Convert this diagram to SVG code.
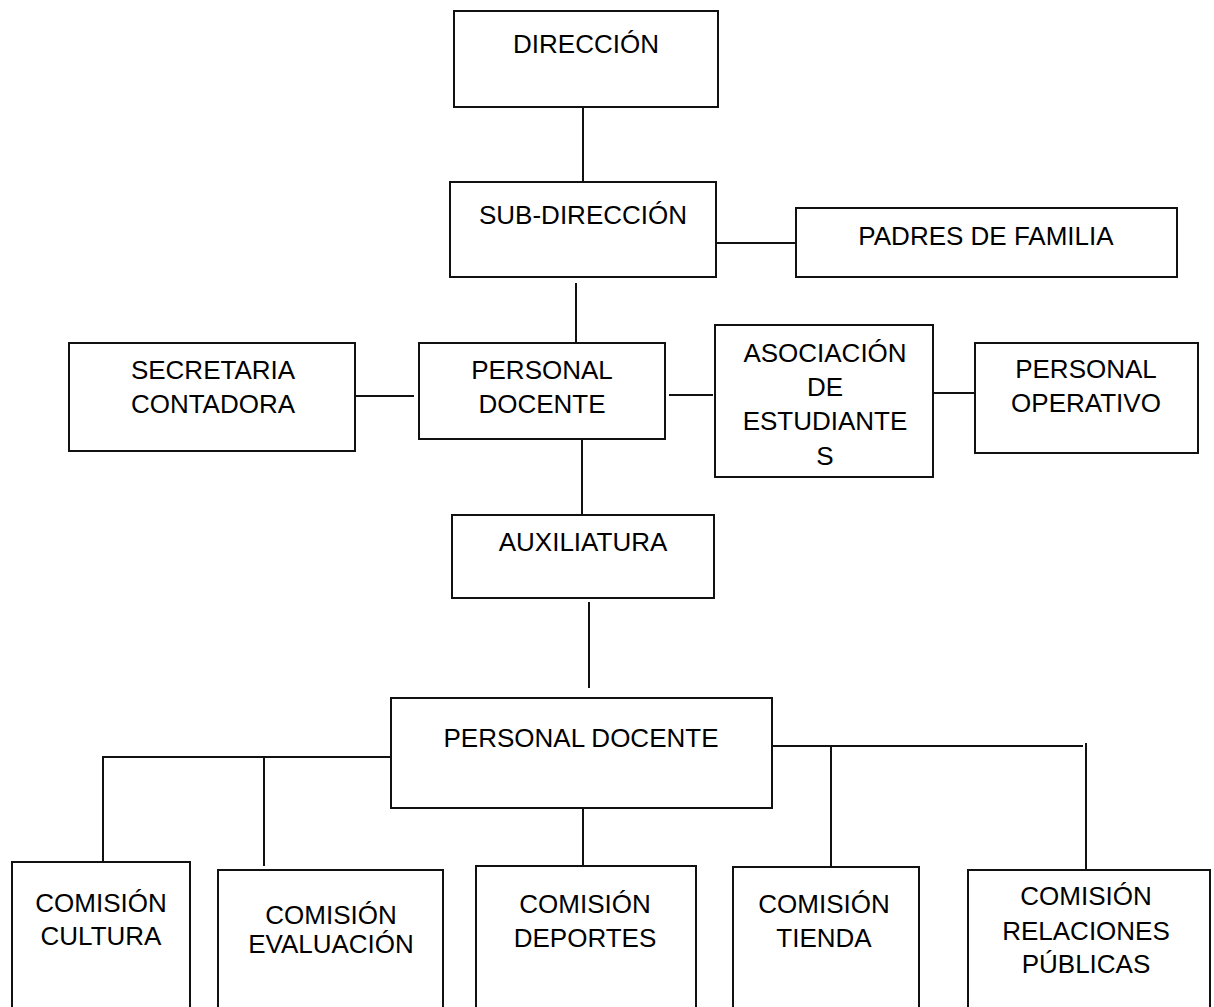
<svg xmlns="http://www.w3.org/2000/svg" width="1214" height="1007" viewBox="0 0 1214 1007">
<style>
.box{fill:#fff;stroke:#111;stroke-width:2}
.ln{fill:none;stroke:#111;stroke-width:2}
text{font-family:"Liberation Sans",Arial,sans-serif;font-size:26px;fill:#000;text-anchor:middle}
</style>
<rect width="1214" height="1007" fill="#fff"/>
<g id="connectors">
<line class="ln" x1="583" y1="107" x2="583" y2="188"/>
<line class="ln" x1="716" y1="243" x2="796" y2="243"/>
<line class="ln" x1="576" y1="283" x2="576" y2="343"/>
<line class="ln" x1="355" y1="396" x2="414" y2="396"/>
<line class="ln" x1="669" y1="395" x2="713" y2="395"/>
<line class="ln" x1="933" y1="393" x2="975" y2="393"/>
<line class="ln" x1="582" y1="439" x2="582" y2="515"/>
<line class="ln" x1="589" y1="602" x2="589" y2="688"/>
<polyline class="ln" points="391,757 103,757 103,865"/>
<line class="ln" x1="264" y1="757" x2="264" y2="866"/>
<line class="ln" x1="583" y1="808" x2="583" y2="867"/>
<line class="ln" x1="773" y1="746" x2="1083" y2="746"/>
<line class="ln" x1="831" y1="746" x2="831" y2="867"/>
<line class="ln" x1="1086" y1="743" x2="1086" y2="870"/>
</g>
<g id="direccion"><rect class="box" x="454" y="11" width="264" height="96"/><text x="586" y="53">DIRECCIÓN</text></g>
<g id="subdireccion"><rect class="box" x="450" y="182" width="266" height="95"/><text x="583" y="224">SUB-DIRECCIÓN</text></g>
<g id="padres"><rect class="box" x="796" y="208" width="381" height="69"/><text x="986" y="245">PADRES DE FAMILIA</text></g>
<g id="secretaria"><rect class="box" x="69" y="343" width="286" height="108"/><text x="213" y="379">SECRETARIA</text><text x="213" y="413">CONTADORA</text></g>
<g id="personal-docente-1"><rect class="box" x="419" y="343" width="246" height="96"/><text x="542" y="379">PERSONAL</text><text x="542" y="413">DOCENTE</text></g>
<g id="asociacion"><rect class="box" x="715" y="325" width="218" height="152"/><text x="825" y="362">ASOCIACIÓN</text><text x="825" y="396">DE</text><text x="825" y="430">ESTUDIANTE</text><text x="825" y="465">S</text></g>
<g id="personal-operativo"><rect class="box" x="975" y="343" width="223" height="110"/><text x="1086" y="378">PERSONAL</text><text x="1086" y="412">OPERATIVO</text></g>
<g id="auxiliatura"><rect class="box" x="452" y="515" width="262" height="83"/><text x="583" y="551">AUXILIATURA</text></g>
<g id="personal-docente-2"><rect class="box" x="391" y="698" width="381" height="110"/><text x="581" y="747">PERSONAL DOCENTE</text></g>
<g id="cultura"><rect class="box" x="12" y="862" width="178" height="160"/><text x="101" y="912">COMISIÓN</text><text x="101" y="945">CULTURA</text></g>
<g id="evaluacion"><rect class="box" x="218" y="870" width="225" height="160"/><text x="331" y="924">COMISIÓN</text><text x="331" y="953">EVALUACIÓN</text></g>
<g id="deportes"><rect class="box" x="476" y="866" width="220" height="160"/><text x="585" y="913">COMISIÓN</text><text x="585" y="947">DEPORTES</text></g>
<g id="tienda"><rect class="box" x="733" y="867" width="186" height="160"/><text x="824" y="913">COMISIÓN</text><text x="824" y="947">TIENDA</text></g>
<g id="relaciones"><rect class="box" x="968" y="870" width="242" height="160"/><text x="1086" y="905">COMISIÓN</text><text x="1086" y="940">RELACIONES</text><text x="1086" y="973">PÚBLICAS</text></g>
</svg>
